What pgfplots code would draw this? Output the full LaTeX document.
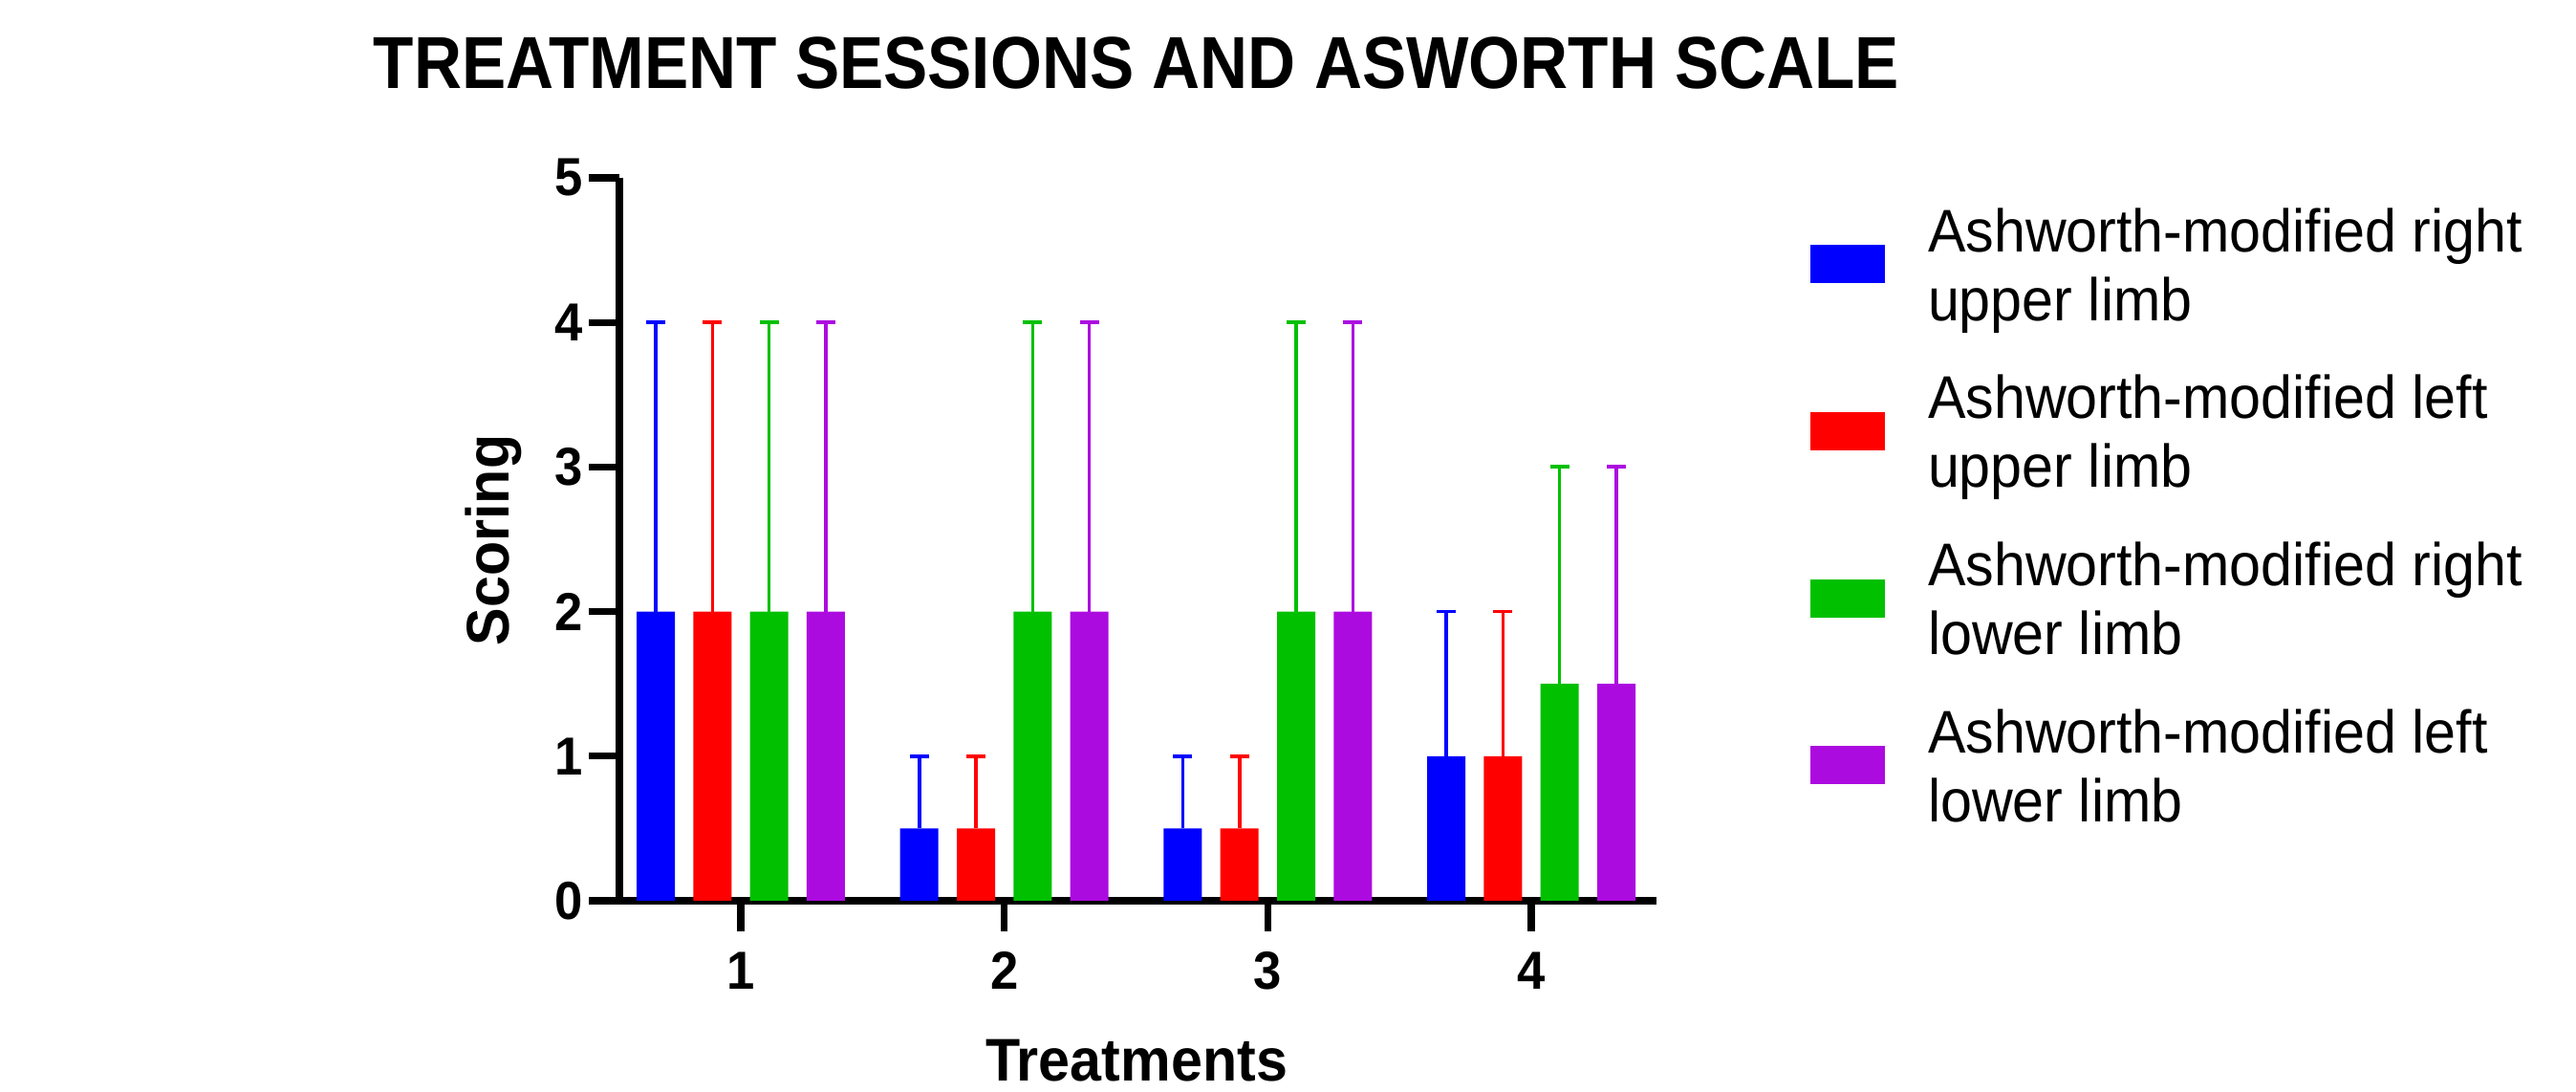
\documentclass[border=0pt]{standalone}
\usepackage{fontspec}
\setmainfont{Liberation Sans}[FakeStretch=0.94]
\newfontfamily\titlefont{Liberation Sans}[FakeStretch=0.9]
\usepackage{pgfplots}
\pgfplotsset{compat=1.18}
\definecolor{cBlue}{RGB}{0,0,255}
\definecolor{cRed}{RGB}{255,0,0}
\definecolor{cGreen}{RGB}{0,192,0}
\definecolor{cPurple}{RGB}{172,11,224}
\pgfplotsset{
  every axis legend/.style={cells={anchor=west}, inner sep=0pt, outer sep=0pt,
    nodes={inner sep=0pt, outer sep=0pt, align=left},
    anchor=north west, at={(1.1484,0.9648)}, draw=none, fill=none,
    row sep=7.7pt, column sep=11.25pt, font=\fontsize{15.75}{18}\selectfont},
  errstyle/.style={error bars/error bar style={draw=#1, line width=0.9pt, solid},
    error bars/error mark options={draw=#1, rotate=90, mark size=2.5pt, line width=0.95pt, solid}},
}
\begin{document}
\begin{tikzpicture}
\path[use as bounding box] (0,0) rectangle (673.75pt,285.5pt);
\begin{axis}[
  at={(162pt,50pt)}, anchor=south west,
  scale only axis, width=271.25pt, height=189pt,
  xmin=0.5393, xmax=4.4752, ymin=0, ymax=5,
  axis lines=left,
  axis line style={-, line width=1.8pt, black},
  xtick={1,2,3,4}, ytick={0,1,2,3,4,5},
  tick align=outside, major tick length=8pt,
  every tick/.style={black, line width=1.8pt},
  /pgf/number format/assume math mode=true,
  xticklabel={\fontsize{14}{16}\selectfont\bfseries\pgfmathprintnumber{\tick}},
  yticklabel={\fontsize{14}{16}\selectfont\bfseries\pgfmathprintnumber{\tick}},
  ticklabel style={inner sep=0pt},
  xticklabel style={anchor=north, yshift=-5.25pt},
  yticklabel style={anchor=east, xshift=-1.25pt},
  title={\titlefont\bfseries TREATMENT SESSIONS AND ASWORTH SCALE},
  title style={at={(axis description cs:0.4986,1.1243)}, anchor=base, yshift=-6pt, inner sep=0pt, font=\fontsize{19.25}{22}\selectfont},
  xlabel={Treatments}, ylabel={Scoring},
  label style={font=\fontsize{15.75}{18}\selectfont\bfseries, inner sep=0pt},
  xlabel style={at={(axis description cs:0.4986,-0.2487)}, anchor=base},
  ylabel style={at={(axis description cs:-0.106,0.4987)}, anchor=base},
  ybar, bar width=10pt,
  legend image code/.code={\fill[#1] (0pt,-2.85pt) rectangle (19.5pt,7.15pt);},
  legend cell align=left,
  error bars/y dir=plus, error bars/y explicit,
]
\addplot[fill=cBlue, draw=none, bar shift=-22.24pt, errstyle=cBlue]
  coordinates {(1,2) +- (0,2) (2,0.5) +- (0,0.5) (3,0.5) +- (0,0.5) (4,1) +- (0,1)};
\addlegendentry{\strut Ashworth-modified right\\\strut upper limb}
\addplot[fill=cRed, draw=none, bar shift=-7.41pt, errstyle=cRed]
  coordinates {(1,2) +- (0,2) (2,0.5) +- (0,0.5) (3,0.5) +- (0,0.5) (4,1) +- (0,1)};
\addlegendentry{\strut Ashworth-modified left\\\strut upper limb}
\addplot[fill=cGreen, draw=none, bar shift=7.41pt, errstyle=cGreen]
  coordinates {(1,2) +- (0,2) (2,2) +- (0,2) (3,2) +- (0,2) (4,1.5) +- (0,1.5)};
\addlegendentry{\strut Ashworth-modified right\\\strut lower limb}
\addplot[fill=cPurple, draw=none, bar shift=22.24pt, errstyle=cPurple]
  coordinates {(1,2) +- (0,2) (2,2) +- (0,2) (3,2) +- (0,2) (4,1.5) +- (0,1.5)};
\addlegendentry{\strut Ashworth-modified left\\\strut lower limb}
\end{axis}
\end{tikzpicture}
\end{document}
